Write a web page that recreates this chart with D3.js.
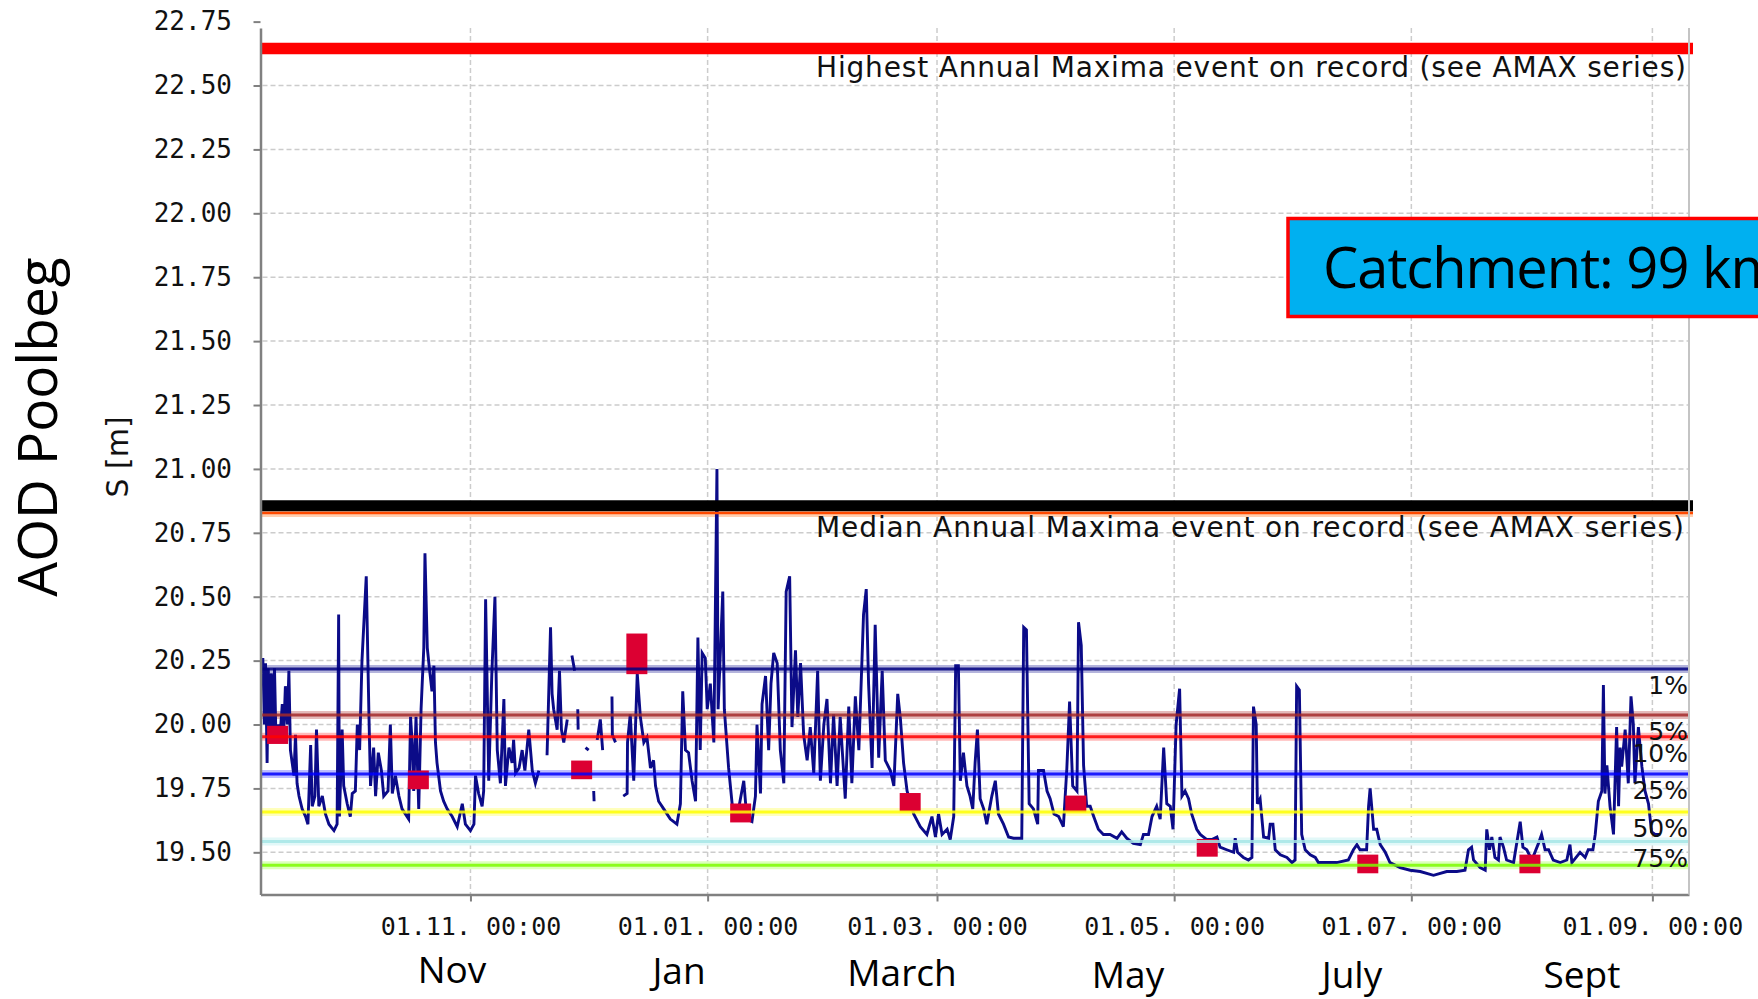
<!DOCTYPE html>
<html>
<head>
<meta charset="utf-8">
<script src="https://cdn.jsdelivr.net/npm/d3@7"></script>
<style>
  html, body { margin: 0; padding: 0; background: #fff; }
  svg { display: block; }
</style>
</head>
<body>
<svg id="chart" width="1758" height="999"></svg>
<script>
// time span of the plot (UTC); series days are counted from seriesStart
var seriesStart = Date.UTC(2014, 8, 8);
var seriesEnd = Date.UTC(2015, 8, 10, 10);

var levelTicks = [19.50, 19.75, 20.00, 20.25, 20.50, 20.75, 21.00, 21.25, 21.50, 21.75, 22.00, 22.25, 22.50, 22.75];
var monthTicks = [Date.UTC(2014, 10, 1), Date.UTC(2015, 0, 1), Date.UTC(2015, 2, 1),
                  Date.UTC(2015, 4, 1), Date.UTC(2015, 6, 1), Date.UTC(2015, 8, 1)];
var monthNames = ["Nov", "Jan", "March", "May", "July", "Sept"];

// exceedance thresholds (label, level)
var thresholdNames = ["1%", "5%", "10%", "25%", "50%", "75%", ""];
var thresholdLevels = [20.217, 20.037, 19.952, 19.806, 19.658, 19.542, 19.449];

// annual maxima references
var amaxNames = ["Highest Annual Maxima event on record (see AMAX series)",
                 "Median Annual Maxima event on record (see AMAX series)"];
var amaxLevels = [22.645, 20.856];
var medianEdgeLevel = 20.828;

// red event markers: day offset, bottom and top level
var eventDays = [4.4, 40.6, 82.6, 96.8, 123.5, 167.1, 209.7, 243.5, 284.8, 326.5];
var eventLow  = [19.924, 19.747, 19.786, 20.197, 19.617, 19.660, 19.657, 19.483, 19.418, 19.418];
var eventHigh = [19.995, 19.820, 19.859, 20.356, 19.691, 19.732, 19.722, 19.552, 19.491, 19.491];

var catchmentText = "Catchment: 99 km\u00b2";

// water level S [m]: [day offset, level], null = gap in record
var levelSeries = [
  [0.3, 20.20], [0.6, 20.26], [1.0, 20.00], [1.3, 20.24], [1.7, 19.85], [2.0, 20.22], [2.4, 19.98],
  [2.8, 20.20], [3.2, 19.93], [3.6, 20.22], [4.0, 19.93], [4.5, 20.00], [5.0, 19.95], [5.6, 20.08],
  [6.0, 19.98], [6.4, 20.15], [6.9, 20.00], [7.3, 20.21], [7.7, 19.90], [8.6, 19.80], [9.0, 19.96],
  [9.4, 19.77], [9.9, 19.72], [10.7, 19.67], [11.6, 19.64], [12.2, 19.61], [12.9, 19.92], [13.3, 19.68],
  [14.0, 19.72], [14.4, 19.98], [15.0, 19.68], [15.9, 19.72], [16.7, 19.65], [17.6, 19.61], [18.9, 19.585],
  [19.7, 19.61], [20.1, 20.43], [20.3, 19.64], [21.0, 19.98], [21.4, 19.76], [22.3, 19.69], [23.1, 19.64],
  [23.6, 19.73], [24.4, 19.74], [24.9, 20.00], [25.5, 19.90], [26.1, 20.25], [27.2, 20.58], [27.9, 20.03],
  [28.3, 19.76], [29.1, 19.91], [29.6, 19.72], [30.3, 19.89], [31.1, 19.82], [31.7, 19.72], [32.8, 19.74],
  [33.4, 20.00], [33.9, 19.73], [34.7, 19.80], [35.6, 19.72], [36.4, 19.67], [38.1, 19.63], [38.6, 20.03],
  [39.0, 19.93], [39.4, 19.74], [40.0, 20.03], [40.7, 19.67], [41.3, 20.06], [42.0, 20.30], [42.3, 20.67],
  [42.9, 20.30], [43.3, 20.24], [44.1, 20.13], [44.6, 20.23], [45.0, 19.93], [45.4, 19.85], [46.3, 19.74],
  [47.1, 19.70], [48.0, 19.67], [49.3, 19.64], [50.6, 19.60], [51.9, 19.69], [52.7, 19.61], [54.0, 19.585],
  [54.9, 19.61], [55.3, 19.80], [56.1, 19.73], [57.0, 19.68], [57.4, 19.74], [57.9, 20.49], [58.3, 20.15],
  [58.7, 19.78], [59.5, 20.20], [60.3, 20.50], [60.9, 19.90], [61.7, 19.77], [62.6, 20.10], [63.0, 19.76],
  [63.9, 19.91], [64.7, 19.85], [65.1, 19.94], [65.6, 19.81], [66.5, 19.83], [67.3, 19.90], [68.0, 19.82],
  [69.0, 19.98], [69.9, 19.82], [70.7, 19.77], [71.6, 19.82], [72.2, null],
  [73.7, 19.88], [74.6, 20.38], [75.0, 20.12], [75.4, 20.06], [76.3, 19.98], [76.9, 20.21], [77.4, 19.98],
  [78.0, 19.93], [78.9, 20.02], [79.5, null], [80.1, 20.27], [80.8, 20.21], [81.2, null],
  [81.6, 20.06], [81.7, 19.98], [82.5, null], [83.6, 19.91], [84.4, 19.90], [85.0, null],
  [85.7, 19.74], [85.8, 19.70], [86.2, null], [86.6, 19.94], [87.4, 20.02], [88.0, 19.90], [88.5, null],
  [90.4, 20.11], [90.5, 19.96], [91.3, 19.93], [91.8, null],
  [93.3, 19.72], [94.3, 19.73], [94.4, 19.93], [95.1, 20.04], [96.0, 19.78], [96.9, 20.20], [97.7, 20.03],
  [98.6, 19.93], [99.4, 19.95], [100.3, 19.83], [101.1, 19.86], [101.6, 19.76], [102.4, 19.70], [103.7, 19.67],
  [105.4, 19.63], [107.1, 19.61], [108.0, 19.69], [108.6, 20.13], [109.3, 19.90], [110.1, 19.89], [111.0, 19.78],
  [111.9, 19.70], [112.5, 20.34], [113.1, 19.90], [113.6, 20.28], [114.4, 20.26], [114.9, 20.06], [115.7, 20.16],
  [116.6, 19.93], [117.4, 21.00], [117.7, 20.06], [118.3, 20.29], [118.9, 20.52], [119.3, 20.06], [120.4, 19.83],
  [121.3, 19.69], [122.6, 19.64], [124.3, 19.78], [125.1, 19.63], [126.4, 19.62], [127.3, 19.72], [127.7, 20.00],
  [128.6, 19.73], [129.0, 20.08], [129.9, 20.19], [130.7, 19.90], [131.3, 20.16], [132.0, 20.28], [132.9, 20.24],
  [133.7, 19.90], [134.6, 19.77], [135.2, 20.52], [136.1, 20.58], [136.7, 19.99], [137.6, 20.29], [138.2, 20.03],
  [138.9, 20.24], [139.7, 19.96], [140.6, 19.86], [141.4, 19.99], [142.3, 19.81], [143.3, 20.21], [144.0, 19.78],
  [144.9, 20.00], [145.7, 20.10], [146.6, 19.77], [147.4, 20.04], [148.3, 19.76], [149.1, 20.03], [150.4, 19.71],
  [151.3, 20.07], [152.1, 19.77], [153.0, 20.11], [153.9, 19.90], [155.1, 20.43], [155.8, 20.53], [156.4, 20.16],
  [157.3, 19.83], [158.1, 20.39], [159.0, 19.87], [159.9, 20.21], [160.7, 19.86], [162.0, 19.82], [162.9, 19.76],
  [163.9, 20.12], [164.6, 20.02], [165.4, 19.85], [166.3, 19.74], [168.0, 19.65], [169.7, 19.60], [171.4, 19.57],
  [172.7, 19.64], [173.6, 19.56], [174.4, 19.65], [175.3, 19.57], [176.6, 19.59], [177.4, 19.55], [178.3, 19.64],
  [178.8, 20.23], [179.5, 20.23], [180.0, 19.78], [180.8, 19.89], [181.7, 19.76], [182.5, 19.72], [183.2, 19.67],
  [183.8, 19.85], [184.4, 19.98], [185.1, 19.71], [186.0, 19.67], [186.8, 19.61], [188.1, 19.72], [189.0, 19.78],
  [189.8, 19.65], [191.1, 19.61], [192.4, 19.56], [193.7, 19.555], [195.8, 19.555], [196.3, 20.38], [197.0, 20.37],
  [197.7, 19.69], [198.8, 19.67], [199.9, 19.61], [200.1, 19.82], [201.4, 19.82], [202.3, 19.74], [203.1, 19.71],
  [204.1, 19.65], [205.3, 19.64], [206.5, 19.60], [207.4, 19.83], [208.1, 20.09], [208.9, 19.76], [210.0, 19.74],
  [210.4, 20.40], [211.1, 20.31], [211.7, 19.84], [212.5, 19.68], [213.4, 19.68], [214.3, 19.64], [215.5, 19.59],
  [216.8, 19.57], [218.5, 19.57], [220.3, 19.555], [221.5, 19.58], [222.8, 19.555], [224.5, 19.535], [226.3, 19.53],
  [227.1, 19.57], [228.4, 19.57], [229.3, 19.64], [230.5, 19.68], [231.4, 19.63], [232.3, 19.91], [233.1, 19.69],
  [234.0, 19.68], [234.7, 19.59], [235.5, 20.00], [236.4, 20.14], [237.0, 19.72], [237.8, 19.74], [238.7, 19.71],
  [239.5, 19.65], [240.8, 19.59], [241.7, 19.57], [243.4, 19.55], [244.7, 19.55], [246.0, 19.56], [246.8, 19.52],
  [248.5, 19.51], [250.3, 19.50], [250.7, 19.555], [251.3, 19.50], [252.8, 19.48], [254.1, 19.47], [255.0, 19.48],
  [255.4, 20.07], [256.1, 20.00], [256.4, 19.69], [257.1, 19.71], [258.0, 19.56], [259.3, 19.555], [259.7, 19.61],
  [260.4, 19.61], [261.0, 19.51], [262.3, 19.49], [264.0, 19.48], [265.3, 19.46], [266.1, 19.47], [266.5, 20.15],
  [267.2, 20.135], [267.8, 19.57], [268.7, 19.51], [270.0, 19.49], [271.3, 19.48], [272.1, 19.46], [274.3, 19.46],
  [276.8, 19.46], [279.8, 19.47], [281.1, 19.51], [282.0, 19.53], [282.8, 19.51], [284.5, 19.51], [285.0, 19.68],
  [285.4, 19.75], [285.8, 19.68], [286.3, 19.59], [287.1, 19.59], [288.0, 19.53], [289.3, 19.50], [290.5, 19.46],
  [293.1, 19.44], [295.7, 19.43], [298.3, 19.425], [301.7, 19.41], [305.1, 19.425], [307.7, 19.425], [309.8, 19.43],
  [310.7, 19.51], [311.5, 19.52], [312.0, 19.47], [313.7, 19.44], [315.0, 19.43], [315.4, 19.59], [316.1, 19.51],
  [316.7, 19.56], [317.5, 19.48], [318.4, 19.47], [318.8, 19.56], [319.7, 19.52], [320.5, 19.47], [322.3, 19.46],
  [324.0, 19.62], [324.7, 19.52], [325.7, 19.51], [327.0, 19.47], [328.7, 19.535], [329.5, 19.57], [330.4, 19.51],
  [331.3, 19.51], [332.5, 19.47], [334.3, 19.46], [336.0, 19.47], [336.8, 19.53], [337.3, 19.46], [339.4, 19.50],
  [340.7, 19.48], [341.5, 19.51], [342.7, 19.51], [343.3, 19.57], [344.1, 19.70], [345.0, 19.74], [345.4, 20.155],
  [345.8, 19.73], [346.3, 19.84], [347.1, 19.68], [348.0, 19.57], [348.8, 19.99], [349.3, 19.68], [349.7, 19.91],
  [350.1, 19.835], [351.0, 19.98], [351.8, 19.77], [352.5, 20.11], [353.1, 20.00], [353.5, 19.77], [354.4, 19.99],
  [355.3, 19.835], [356.1, 19.74], [357.0, 19.69], [357.8, 19.58], [358.7, 19.57], [360.0, 19.57]
];

// ---- layout / style ----
var plot = { left: 260.5, right: 1689, top: 28, bottom: 894.5 };
var lineColors = ["#000080", "#a52a2a", "#ff0000", "#0000ff", "#ffff00", "#a6e6e6", "#7cfc00"];
var haloColors = ["#b4b4dc", "#e4baba", "#ffbaba", "#bcbcff", "#ffffbc", "#e2f8f8", "#dcffbc"];
var monthLabelX = [452, 679, 902, 1128, 1352, 1582];
var monthLabelY = [983, 984, 986, 988, 988, 988];
var DAY = 86400000;

var svg = d3.select("#chart");
svg.append("rect").attr("width", 1758).attr("height", 999).attr("fill", "#fff");

var x = d3.scaleUtc().domain([seriesStart, seriesEnd]).range([plot.left, plot.right]);
var y = d3.scaleLinear().domain([19.335, 22.725]).range([plot.bottom, plot.top]);
var dayToDate = function(d) { return new Date(seriesStart + d * DAY); };

// grid
var grid = svg.append("g").attr("stroke", "#cccccc").attr("stroke-width", 1.5).attr("stroke-dasharray", "5,3");
grid.selectAll("line.h").data(levelTicks.filter(function(v) { return y(v) > plot.top; }))
  .enter().append("line")
  .attr("x1", plot.left + 2).attr("x2", plot.right - 1)
  .attr("y1", function(v) { return y(v); }).attr("y2", function(v) { return y(v); });
grid.selectAll("line.v").data(monthTicks)
  .enter().append("line")
  .attr("x1", function(d) { return x(d); }).attr("x2", function(d) { return x(d); })
  .attr("y1", plot.top).attr("y2", plot.bottom);

// threshold halos (under the series)
svg.append("g").selectAll("line").data(thresholdLevels).enter().append("line")
  .attr("x1", plot.left).attr("x2", plot.right - 1)
  .attr("y1", function(v) { return y(v); }).attr("y2", function(v) { return y(v); })
  .attr("stroke", function(v, i) { return haloColors[i]; })
  .attr("stroke-width", 8);
svg.append("line")
  .attr("x1", plot.left).attr("x2", plot.right + 4)
  .attr("y1", y(medianEdgeLevel) + 1).attr("y2", y(medianEdgeLevel) + 1)
  .attr("stroke", "#ffcfb0").attr("stroke-width", 6);

// water level series
var line = d3.line()
  .defined(function(d) { return d[1] != null; })
  .x(function(d) { return x(dayToDate(d[0])); })
  .y(function(d) { return y(d[1]); });
svg.append("path").datum(levelSeries)
  .attr("d", line)
  .attr("fill", "none")
  .attr("stroke", "#0b0b88")
  .attr("stroke-width", 2.9)
  .attr("stroke-linejoin", "miter");

// event markers
svg.append("g").selectAll("rect").data(eventDays).enter().append("rect")
  .attr("x", function(d) { return x(dayToDate(d)) - 10.5; })
  .attr("width", 21)
  .attr("y", function(d, i) { return y(eventHigh[i]); })
  .attr("height", function(d, i) { return y(eventLow[i]) - y(eventHigh[i]); })
  .attr("fill", "#dc0032");

// threshold lines and their labels
svg.append("g").selectAll("line").data(thresholdLevels).enter().append("line")
  .attr("x1", plot.left).attr("x2", plot.right - 1)
  .attr("y1", function(v) { return y(v); }).attr("y2", function(v) { return y(v); })
  .attr("stroke", function(v, i) { return lineColors[i]; })
  .attr("stroke-opacity", 0.85)
  .attr("stroke-width", 3);
svg.append("g").selectAll("text").data(thresholdNames).enter().append("text")
  .attr("x", plot.right - 1)
  .attr("y", function(t, i) { return y(thresholdLevels[i]) + 25; })
  .attr("text-anchor", "end")
  .attr("font-family", "DejaVu Sans")
  .attr("font-size", 25)
  .attr("fill", "#111")
  .text(function(t) { return t; });

// annual maxima lines
svg.append("line")
  .attr("x1", plot.left).attr("x2", plot.right + 4)
  .attr("y1", y(medianEdgeLevel)).attr("y2", y(medianEdgeLevel))
  .attr("stroke", "#ff4a00").attr("stroke-width", 2.5);
svg.append("line")
  .attr("x1", plot.left).attr("x2", plot.right + 4)
  .attr("y1", y(amaxLevels[0])).attr("y2", y(amaxLevels[0]))
  .attr("stroke", "#ff0000").attr("stroke-width", 11.5);
svg.append("line")
  .attr("x1", plot.left).attr("x2", plot.right + 4)
  .attr("y1", y(amaxLevels[1])).attr("y2", y(amaxLevels[1]))
  .attr("stroke", "#000000").attr("stroke-width", 11);
svg.append("g").selectAll("text").data(amaxNames).enter().append("text")
  .attr("x", plot.right - 873)
  .attr("y", function(t, i) { return y(amaxLevels[i]) + (i === 0 ? 29 : 31); })
  .attr("font-family", "DejaVu Sans")
  .attr("font-size", 28)
  .attr("fill", "#111")
  .attr("textLength", function(t, i) { return i === 0 ? 870 : 868; })
  .attr("lengthAdjust", "spacing")
  .text(function(t) { return t; });

// axes
var yAxis = d3.axisLeft(y).tickValues(levelTicks).tickFormat(d3.format(".2f"))
  .tickSize(7).tickSizeOuter(0).tickPadding(21.5);
var gY = svg.append("g").attr("transform", "translate(" + plot.left + ",0)").call(yAxis);
gY.attr("font-family", "DejaVu Sans Mono").attr("font-size", 26);

var xAxis = d3.axisBottom(x).tickValues(monthTicks.map(function(t) { return new Date(t); }))
  .tickFormat(d3.utcFormat("%d.%m. %H:%M"))
  .tickSize(7).tickSizeOuter(0).tickPadding(16);
var gX = svg.append("g").attr("transform", "translate(0," + plot.bottom + ")").call(xAxis);
gX.attr("font-family", "DejaVu Sans Mono").attr("font-size", 25);

[gY, gX].forEach(function(g) {
  g.select(".domain").attr("stroke", "#808080").attr("stroke-width", 2.5);
  g.selectAll(".tick line").attr("stroke", "#808080").attr("stroke-width", 2);
  g.selectAll(".tick text").attr("fill", "#111");
});

// right border
svg.append("line")
  .attr("x1", plot.right).attr("x2", plot.right)
  .attr("y1", plot.top).attr("y2", plot.bottom)
  .attr("stroke", "#c4c4c4").attr("stroke-width", 2);

// month names under the axis
svg.append("g").selectAll("text").data(monthNames).enter().append("text")
  .attr("x", function(m, i) { return monthLabelX[i]; })
  .attr("y", function(m, i) { return monthLabelY[i]; })
  .attr("text-anchor", "middle")
  .attr("font-family", "Open Sans")
  .attr("font-size", 37)
  .attr("fill", "#000")
  .text(function(m) { return m; });

// axis titles
svg.append("text")
  .attr("transform", "translate(57,427) rotate(-90)")
  .attr("text-anchor", "middle")
  .attr("font-family", "Open Sans")
  .attr("font-size", 55)
  .attr("fill", "#000")
  .text("AOD Poolbeg");
svg.append("text")
  .attr("transform", "translate(128,457) rotate(-90)")
  .attr("text-anchor", "middle")
  .attr("font-family", "DejaVu Sans")
  .attr("font-size", 30)
  .attr("fill", "#111")
  .text("S [m]");

// catchment box
svg.append("rect")
  .attr("x", 1288).attr("y", 218.5)
  .attr("width", 520).attr("height", 98)
  .attr("fill", "#00b0f0")
  .attr("stroke", "#ff0000").attr("stroke-width", 3.5);
svg.append("text")
  .attr("x", 1323).attr("y", 288)
  .attr("font-family", "Open Sans")
  .attr("font-size", 56)
  .attr("letter-spacing", -1)
  .attr("fill", "#000")
  .text(catchmentText);
</script>
</body>
</html>
